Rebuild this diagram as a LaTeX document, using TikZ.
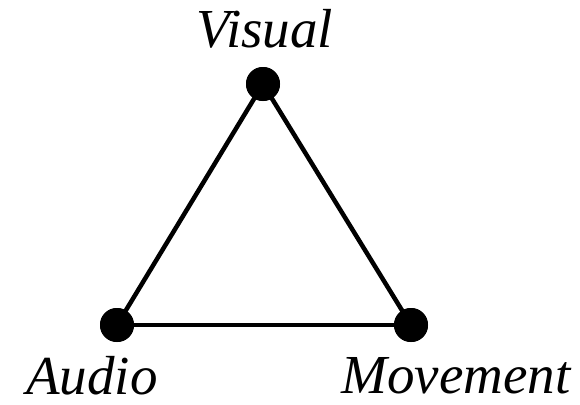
\documentclass[tikz,border=0pt]{standalone}
\usepackage{fontspec}
\setmainfont{Liberation Serif}
\usetikzlibrary{positioning}

\begin{document}
\begin{tikzpicture}[
    x=1pt, y=-1pt,
    vertex/.style={circle, fill=black, inner sep=0pt, minimum size=34pt},
    edge/.style={line width=4.5pt, black},
    vlabel/.style={anchor=base, inner sep=0pt, text depth=0pt, font=\fontsize{55}{60}\selectfont\itshape},
]
\useasboundingbox (0,0) rectangle (580,404);

% === VERTICES ===
\node[vertex] (visual) at (263,84) {};
\node[vertex] (audio) at (117,325) {};
\node[vertex] (movement) at (411,325) {};

% === LABELS ===
\node[vlabel] (visual-lbl) at (265,48) {Visual};
\node[vlabel] (audio-lbl) at (92,394) {Audio};
\node[vlabel] (movement-lbl) at (456,393) {Movement};

% === EDGES ===
\draw[edge] (visual.center) -- (audio.center);
\draw[edge] (audio.center) -- (movement.center);
\draw[edge] (movement.center) -- (visual.center);

% redraw dots on top
\node[vertex] at (visual) {};
\node[vertex] at (audio) {};
\node[vertex] at (movement) {};

\end{tikzpicture}
\end{document}
